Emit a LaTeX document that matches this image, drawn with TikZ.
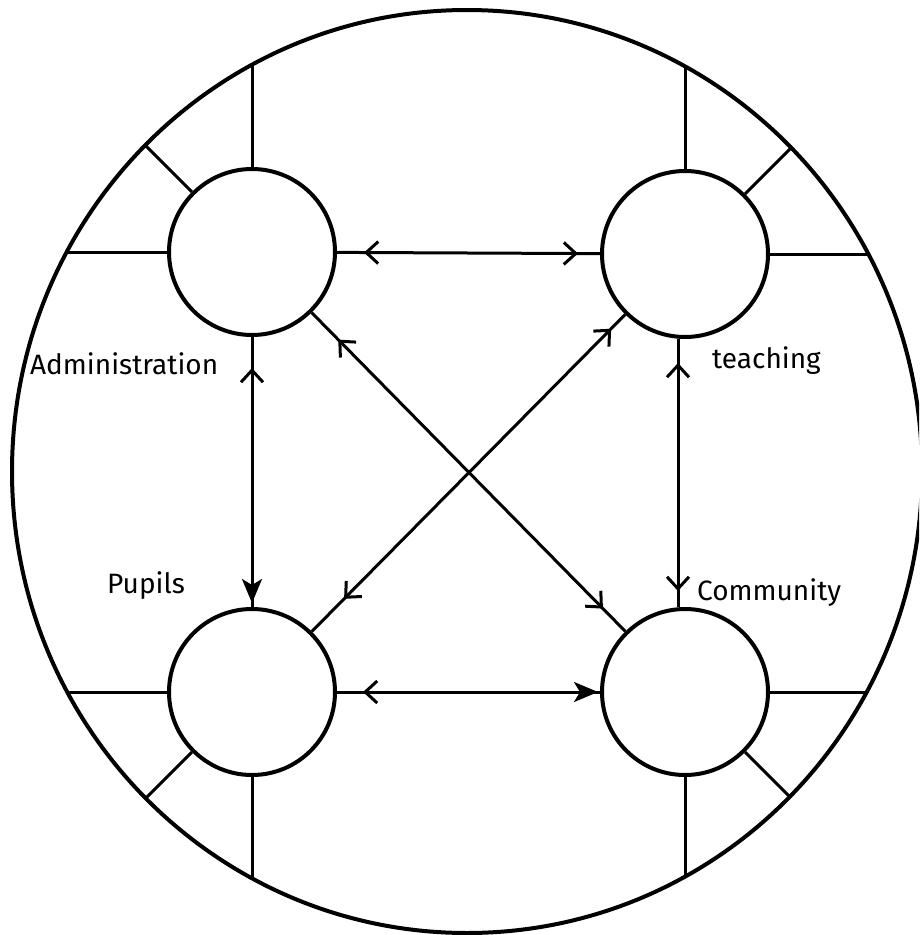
\documentclass[tikz,border=0pt]{standalone}
\usepackage{fontspec}
\newfontfamily\handfont{Fira Sans}
\usetikzlibrary{arrows.meta,decorations.markings}
\tikzset{
  hub/.style={circle,draw,line width=4pt,minimum size=166pt,inner sep=0pt},
  spoke/.style={line width=3pt},
  link/.style={line width=3pt},
  lab/.style={anchor=base west,inner sep=0pt,font=\handfont\fontsize{28}{32}\selectfont},
  fwd/.style={postaction={decorate,decoration={markings,mark=at position #1 with {\arrow{Straight Barb[length=12pt,width=22pt,line width=3pt]}}}}},
  bwd/.style={postaction={decorate,decoration={markings,mark=at position #1 with {\arrowreversed{Straight Barb[length=12pt,width=22pt,line width=3pt]}}}}},
  fwdbold/.style={postaction={decorate,decoration={markings,mark=at position #1 with {\arrow{Stealth[length=24pt,width=20pt,inset=6pt]}}}}}
}
\begin{document}
\begin{tikzpicture}[x=1pt,y=-1pt]
\useasboundingbox (0,0) rectangle (919,935);
\clip (0,0) rectangle (919,935);
\draw[line width=4pt] (467,471.5) ellipse [x radius=455, y radius=461.5];
\node[hub] (adm) at (252,252) {}; \node[hub] (tea) at (685,254) {};
\node[hub] (pup) at (252,692) {}; \node[hub] (com) at (685,692) {};
% outer ends of the spokes
\coordinate (a1) at (252,65); \coordinate (a2) at (145.2,145.2); \coordinate (a3) at (66.8,252);
\coordinate (t1) at (685,66.4); \coordinate (t2) at (791.3,147.7); \coordinate (t3) at (868.3,254);
\coordinate (p1) at (67.3,692); \coordinate (p2) at (145.8,798.2); \coordinate (p3) at (252,878.2);
\coordinate (c1) at (866.7,692); \coordinate (c2) at (789.4,796.4); \coordinate (c3) at (685,876.6);
\foreach \nd/\an/\en in {adm/north/a1,adm/north west/a2,adm/west/a3,
  tea/north/t1,tea/north east/t2,tea/east/t3,
  pup/west/p1,pup/south west/p2,pup/south/p3,
  com/east/c1,com/south east/c2,com/south/c3}{\draw[spoke] (\nd.\an)--(\en);}
% links between the four circles
\draw[link,bwd=27pt,fwd=-22pt] (adm) -- (tea);
\draw[link,bwd=26pt,fwdbold=-2pt] (pup) -- (com);
\draw[link,bwd=31pt,fwdbold=-4pt] (adm) -- (pup);
\draw[link,bwd=24pt,fwd=-16pt] ([xshift=-7pt]tea.south) -- ([xshift=-7pt]com.north);
\draw[link,bwd=38pt,fwd=-32pt] (adm) -- (com);
\draw[link,bwd=46pt,fwd=-20pt] (pup) -- (tea);
\node[lab] (ladm) at (30,374) {Administration};
\node[lab] (lpup) at (107,593) {Pupils};
\node[lab] (ltea) at (712,368) {teaching};
\node[lab] (lcom) at (697,600) {Community};
\end{tikzpicture}
\end{document}
